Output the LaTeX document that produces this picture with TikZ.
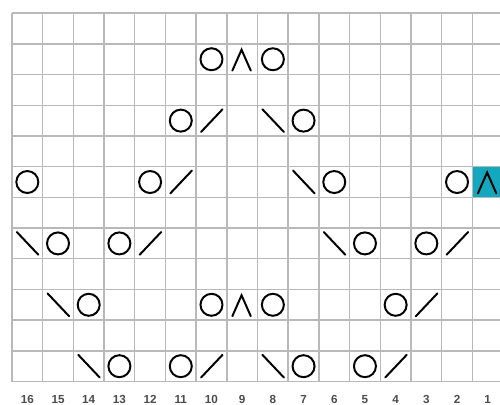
\documentclass[tikz,border=0pt]{standalone}
\usepackage{fontspec}
\usepackage{tikz}

\newfontfamily\numfont{Liberation Sans}
\definecolor{chartteal}{HTML}{14A8BE}

% decrease symbols, drawn about a cell centre
\newcommand{\kdec}[1]{\draw[dec, shift={(#1)}] (-0.34,-0.37) -- (0.36,0.37);}
\newcommand{\sdec}[1]{\draw[dec, shift={(#1)}] (-0.34,0.37) -- (0.36,-0.37);}
\newcommand{\cdec}[1]{\draw[dec, shift={(#1)}] (-0.32,-0.37) -- (-0.02,0.31) -- (0.28,-0.37);}

\begin{document}
\begin{tikzpicture}[
    x=0.6cm, y=0.6cm,
    gridline/.style={draw=gray!55, line width=0.8pt},
    yo/.style={circle, draw=black, line width=1.1pt, minimum size=0.43cm, inner sep=0pt},
    dec/.style={black, line width=1.1pt, line cap=round},
    num/.style={font=\numfont\bfseries\fontsize{6.5}{7}\selectfont, text=black!70, anchor=base, inner sep=0pt}
]
\useasboundingbox (-0.39,-0.76) rectangle (15.9,12.43);
\clip (-0.39,-0.76) rectangle (15.9,12.43);

% highlighted cell and chart grid
\fill[chartteal] (15,6) rectangle (16,7);
\draw[gridline, step={(1,1)}] (0,0) grid (16,12);

% row 2
\node[yo] (r2a) at (6.5,10.5) {};
\cdec{7.5,10.5}
\node[yo] (r2b) at (8.5,10.5) {};

% row 4
\node[yo] (r4a) at (5.5,8.5) {};
\kdec{6.5,8.5}
\sdec{8.5,8.5}
\node[yo] (r4b) at (9.5,8.5) {};

% row 6
\node[yo] (r6a) at (0.5,6.5) {};
\node[yo] (r6b) at (4.5,6.5) {};
\kdec{5.5,6.5}
\sdec{9.5,6.5}
\node[yo] (r6c) at (10.5,6.5) {};
\node[yo] (r6d) at (14.5,6.5) {};
\cdec{15.5,6.5}

% row 8
\sdec{0.5,4.5}
\node[yo] (r8a) at (1.5,4.5) {};
\node[yo] (r8b) at (3.5,4.5) {};
\kdec{4.5,4.5}
\sdec{10.5,4.5}
\node[yo] (r8c) at (11.5,4.5) {};
\node[yo] (r8d) at (13.5,4.5) {};
\kdec{14.5,4.5}

% row 10
\sdec{1.5,2.5}
\node[yo] (r10a) at (2.5,2.5) {};
\node[yo] (r10b) at (6.5,2.5) {};
\cdec{7.5,2.5}
\node[yo] (r10c) at (8.5,2.5) {};
\node[yo] (r10d) at (12.5,2.5) {};
\kdec{13.5,2.5}

% row 12
\sdec{2.5,0.5}
\node[yo] (r12a) at (3.5,0.5) {};
\node[yo] (r12b) at (5.5,0.5) {};
\kdec{6.5,0.5}
\sdec{8.5,0.5}
\node[yo] (r12c) at (9.5,0.5) {};
\node[yo] (r12d) at (11.5,0.5) {};
\kdec{12.5,0.5}

% stitch numbers
\foreach \k in {1,...,16}
  \node[num] (n\k) at (16.5-\k,-0.72) {\k};
\end{tikzpicture}
\end{document}
